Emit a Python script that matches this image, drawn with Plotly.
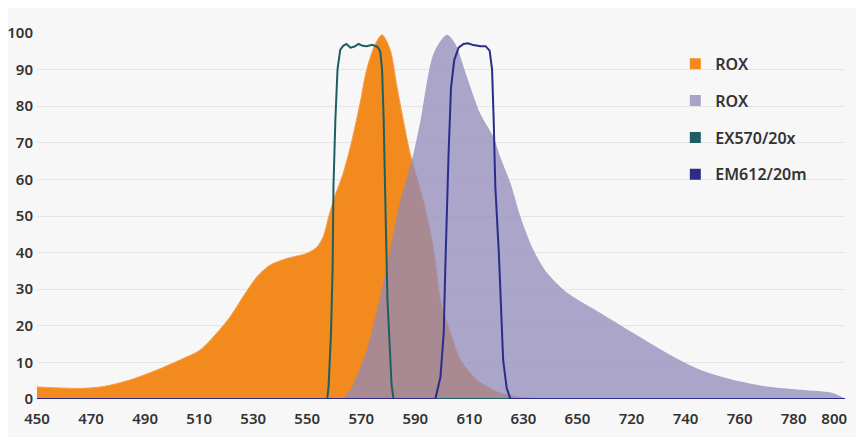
import plotly.graph_objects as go

# x positions along the (non-uniform) wavelength axis, y in %
rox_ex_x = [450, 466, 474.5, 484.4, 494.3, 503, 510.4, 516.5, 521.5, 526.3, 531.4, 536.3,
            542.5, 549.9, 553.6, 556, 558, 560, 563, 566, 569.6, 572, 575.2, 577.7,
            580.7, 583.2, 585.6, 588.1, 593, 596.8, 599.3, 603, 606.7, 612.8, 621.5, 631, 640]
rox_ex_y = [3.3, 2.9, 3.4, 5.2, 7.9, 10.7, 13.4, 18, 22.5, 28, 33.4, 36.6,
            38.4, 39.8, 41.5, 44.5, 50, 55, 61, 69, 81, 90, 97, 99.5,
            95.4, 85.3, 76, 67, 54, 40.7, 27, 18, 10.7, 5.2, 1.6, 0.3, 0]

rox_em_x = [563, 565.9, 572, 578.1, 584.4, 589.3, 591.9, 596.8, 601.7, 604.8, 609.1, 614,
            618.9, 621.5, 625.2, 628.9, 633.7, 638.8, 646.2, 658.5, 670.7, 683.2, 695.6,
            707.8, 720.3, 732.6, 744.8, 748.5]
rox_em_y = [0, 2.5, 13.4, 31.7, 54, 67, 76, 94.5, 99.5, 97, 88, 78,
            71.6, 66, 59, 49.8, 40.7, 34.4, 29, 23.5, 18, 12.5, 7.9,
            5.2, 3.4, 2.5, 1.6, 0.3]

ex_x = [450, 557.4, 557.9, 558.8, 559.4, 559.7, 560.4, 561.2, 562.2, 563.3, 564.5, 566,
        567.5, 569, 570.5, 572, 574, 576, 577, 577.7, 578.3, 578.5, 578.9, 579.7, 580.5,
        581.2, 581.9, 750]
ex_y = [0, 0, 3.4, 18, 36, 58, 76, 90, 95.4, 96.5, 97, 96, 96.3, 97, 96.5, 96.4, 96.8,
        96.2, 95, 90, 76, 62.5, 54, 27, 13.4, 4, 0, 0]

em_x = [450, 597.4, 599.3, 600.5, 601.1, 601.7, 602.3, 603.2, 604.4, 606, 607.8, 609.5,
        611.5, 614.1, 616, 617.5, 618.4, 619, 619.6, 620.9, 621.5, 622.5, 623.8, 625.2, 750]
em_y = [0, 0, 6, 18, 36, 54, 67, 85, 92.6, 96, 97, 97.2, 96.7, 96.4, 96.4, 95.2, 90, 76,
        58, 40, 27, 10.7, 3, 0, 0]

tick_pos = [450, 470, 490, 510, 530, 550, 570, 590, 610, 630, 650, 670, 690, 710, 730, 745]
tick_text = ["450", "470", "490", "510", "530", "550", "570", "590", "610", "630", "650",
             "720", "740", "760", "780", "800"]

names = ["ROX", "ROX", "EX570/20x", "EM612/20m"]
colors = ["#F28A1E", "#A9A3CA", "#1E5E63", "#2B2C8A"]

fig = go.Figure()
fig.add_trace(go.Scatter(x=rox_ex_x, y=rox_ex_y, mode="lines", fill="tozeroy",
                         fillcolor="#F28A1E", line=dict(color="#F6A04A", width=1,
                                                        shape="spline", smoothing=0.8),
                         showlegend=False, hoverinfo="skip"))
fig.add_trace(go.Scatter(x=rox_em_x, y=rox_em_y, mode="lines", fill="tozeroy",
                         fillcolor="rgba(144,137,186,0.75)",
                         line=dict(width=0, shape="spline", smoothing=0.8),
                         showlegend=False, hoverinfo="skip"))
fig.add_trace(go.Scatter(x=ex_x, y=ex_y, mode="lines",
                         line=dict(color=colors[2], width=2), showlegend=False))
fig.add_trace(go.Scatter(x=em_x, y=em_y, mode="lines",
                         line=dict(color=colors[3], width=2), showlegend=False))

# legend entries with square swatches
for n, c in zip(names, colors):
    fig.add_trace(go.Scatter(x=[None], y=[None], mode="markers", name=n, legendgroup=n + c,
                             marker=dict(symbol="square", size=11, color=c)))

font = dict(family="Noto Sans", size=15, color="#333333", weight=600)
fig.update_layout(
    width=864, height=437,
    margin=dict(l=29, r=27, t=25, b=46),
    paper_bgcolor="#F7F7F7", plot_bgcolor="#F7F7F7",
    font=font,
    legend=dict(x=0.79, y=0.962, xanchor="left", yanchor="top", bgcolor="rgba(0,0,0,0)",
                font=dict(family="Noto Sans", size=16, color="#333333", weight=600),
                tracegroupgap=13, itemwidth=30),
    xaxis=dict(range=[450, 749], tickvals=tick_pos, ticktext=tick_text, showgrid=False,
               zeroline=False, showline=False, ticks="", tickfont=font,
               ticklabelstandoff=9, automargin=False),
    yaxis=dict(range=[0, 100], tickvals=list(range(0, 101, 10)), showgrid=True,
               gridcolor="#E6E6E6", gridwidth=1, zeroline=False, ticks="",
               ticklabelstandoff=3, tickfont=font, automargin=False),
)

fig.write_html("out.html")
